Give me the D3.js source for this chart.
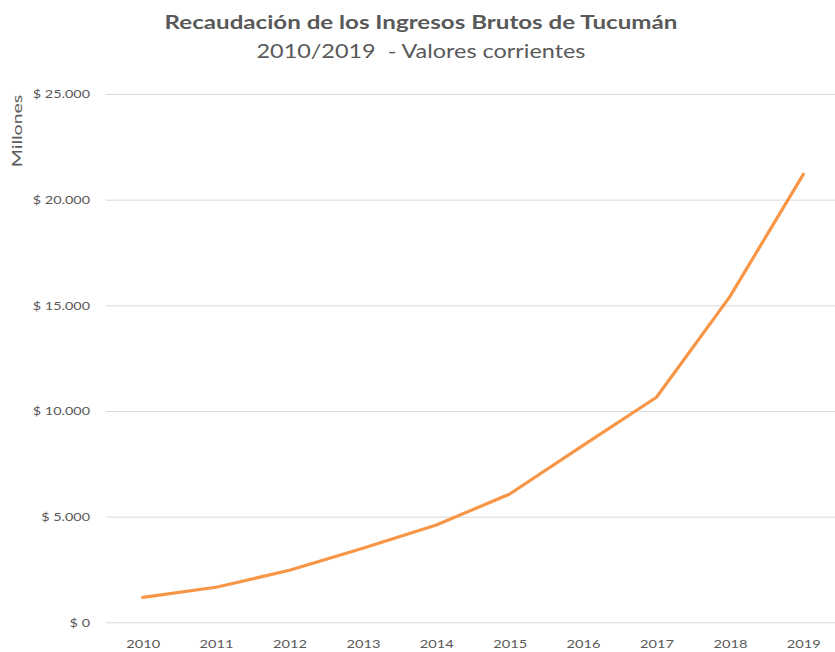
<!DOCTYPE html>
<html><head><meta charset="utf-8">
<script src="https://cdn.jsdelivr.net/npm/d3@7"></script>
<style>body{margin:0;background:#fff}svg{display:block}</style>
</head><body>
<svg id="c" width="835" height="652"></svg>
<script>
const years = ["2010","2011","2012","2013","2014","2015","2016","2017","2018","2019"];
const values = [1180, 1660, 2460, 3500, 4600, 6070, 8370, 10650, 15410, 21200];
const yTicks = [0, 5000, 10000, 15000, 20000, 25000];
const title = "Recaudación de los Ingresos Brutos de Tucumán";
const subtitle = "2010/2019  - Valores corrientes";
const yAxisTitle = "Millones";

const svg = d3.select("#c");
const font = "Lato, 'Open Sans', sans-serif";
const grey = "#595959";

// widen text along its direction like the reference's wide rendering
function widen(sel, k) {
  sel.each(function () {
    const w = this.getComputedTextLength();
    d3.select(this).attr("textLength", w * k).attr("lengthAdjust", "spacingAndGlyphs");
  });
}

const x = d3.scalePoint().domain(years).range([106, 840]).padding(0.5);
const y = d3.scaleLinear().domain([0, 25000]).range([622.3, 94]);

svg.append("text").attr("x", 421).attr("y", 29).attr("text-anchor", "middle")
  .attr("font-family", font).attr("font-size", 18).attr("font-weight", "bold")
  .attr("fill", grey).text(title).call(widen, 1.34);
svg.append("text").attr("x", 421).attr("y", 58).attr("text-anchor", "middle")
  .attr("font-family", font).attr("font-size", 20).style("white-space", "pre")
  .attr("fill", grey).text(subtitle).call(widen, 1.17);

const fmt = v => "$ " + d3.format(",")(v).replace(/,/g, ".");

const yAxis = d3.axisLeft(y).tickValues(yTicks).tickSize(-(835 - 106)).tickFormat(fmt).tickPadding(16);
const gy = svg.append("g").attr("transform", "translate(106,0)").call(yAxis);
gy.select(".domain").remove();
gy.selectAll(".tick line").attr("stroke", "#d9d9d9").attr("stroke-width", 1);
gy.selectAll(".tick text").attr("font-family", font).attr("font-size", 12).attr("fill", grey).call(widen, 1.2);

const xAxis = d3.axisBottom(x).tickSize(0).tickPadding(17);
const gx = svg.append("g").attr("transform", "translate(0,622.3)").call(xAxis);
gx.select(".domain").remove();
gx.selectAll(".tick text").attr("font-family", font).attr("font-size", 12).attr("fill", grey).call(widen, 1.22);

svg.append("text").attr("transform", "translate(22,131) rotate(-90)")
  .attr("text-anchor", "middle").attr("font-family", font).attr("font-size", 13)
  .attr("fill", grey).text(yAxisTitle).call(widen, 1.5);

const line = d3.line().x((d, i) => x(years[i])).y(d => y(d));
svg.append("path").datum(values).attr("d", line).attr("fill", "none")
  .attr("stroke", "#f79646").attr("stroke-width", 3.2)
  .attr("stroke-linejoin", "round").attr("stroke-linecap", "round");
</script>
</body></html>
